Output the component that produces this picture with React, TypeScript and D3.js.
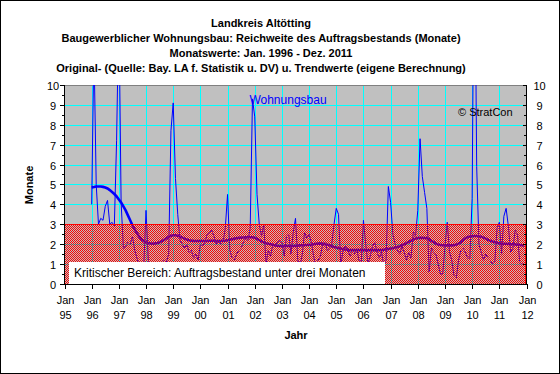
import React, { useEffect, useMemo } from "react";
import * as d3 from "d3";

// ---------- DATA ----------
const TITLE_LINES = [
  "Landkreis Altötting",
  "Baugewerblicher Wohnungsbau:  Reichweite  des Auftragsbestands (Monate)",
  "Monatswerte: Jan. 1996 - Dez. 2011",
  "Original- (Quelle: Bay. LA f. Statistik u. DV) u. Trendwerte (eigene Berechnung)",
];
const X_TICK_YEARS = [1995, 1996, 1997, 1998, 1999, 2000, 2001, 2002, 2003, 2004, 2005, 2006, 2007, 2008, 2009, 2010, 2011, 2012];
const X_TICK_LABELS = ["95", "96", "97", "98", "99", "00", "01", "02", "03", "04", "05", "06", "07", "08", "09", "10", "11", "12"];
const Y_TICKS = [0, 1, 2, 3, 4, 5, 6, 7, 8, 9, 10];
const SERIES_START_YEAR = 1996;
const CRITICAL_LEVEL = 3;

// monthly original values Jan 1996 .. Dec 2011
const originalValues = [
  4.0, 12, 5.0, 3.0, 3.3, 3.2, 3.9, 4.2, 3.0, 3.1, 2.9, 7.2,
  14, 4.1, 1.8, 1.9, 2.1, 2.0, 2.4, 1.7, 1.3, 0.9, 0.7, 0.9,
  3.7, 1.2, 0.9, 0.8, 1.0, 0.7, 0.9, 1.0, 1.2, 1.1, 1.5, 7.7,
  9.1, 5.3, 3.5, 2.2, 2.0, 1.8, 2.0, 1.6, 1.7, 1.3, 1.5, 1.2,
  2.0, 1.9, 2.1, 2.5, 2.6, 2.7, 2.4, 2.0, 2.2, 2.0, 2.1, 2.8,
  4.5, 1.7, 1.3, 1.2, 1.5, 1.7, 1.8, 2.1, 2.3, 2.2, 2.8, 9.3,
  8.4, 4.5, 3.0, 2.4, 3.0, 1.0, 1.7, 1.4, 2.0, 1.9, 2.1, 2.2,
  2.1, 1.4, 2.4, 2.5, 1.5, 2.6, 3.3, 1.2, 0.9, 1.5, 2.6, 2.3,
  2.5, 2.1, 1.4, 0.9, 1.2, 1.4, 2.0, 2.1, 1.7, 1.8, 2.0, 3.0,
  3.8, 3.5, 0.9, 1.7, 1.9, 1.8, 1.4, 1.6, 1.5, 1.8, 1.2, 1.0,
  3.2, 2.0, 1.0, 1.4, 1.9, 2.1, 1.6, 1.3, 1.6, 0.9, 1.2, 4.9,
  4.1, 2.5, 2.0, 1.7, 1.5, 1.9, 1.6, 1.2, 1.6, 1.3, 2.6, 2.4,
  3.7, 7.3, 5.4, 4.6, 3.8, 0.6, 1.8, 1.6, 1.5, 1.0, 0.5, 0.5,
  1.9, 3.1, 1.6, 1.2, 0.4, 0.3, 1.2, 1.7, 1.8, 1.6, 1.3, 1.3,
  4.3, 20, 5.9, 2.0, 1.6, 1.2, 1.5, 1.3, 1.2, 1.0, 1.1, 2.8,
  3.1, 1.5, 3.4, 3.8, 2.9, 1.6, 1.8, 2.7, 2.5, 1.1, 1.0, 1.0,
];

// monthly trend values Jan 1996 .. Dec 2011
const trendValues = [
  4.85, 4.87, 4.9, 4.9, 4.9, 4.88, 4.85, 4.8, 4.72, 4.62, 4.52, 4.4,
  4.25, 4.1, 3.9, 3.7, 3.45, 3.2, 2.95, 2.75, 2.55, 2.38, 2.25, 2.15,
  2.1, 2.06, 2.04, 2.03, 2.04, 2.06, 2.1, 2.15, 2.22, 2.3, 2.37, 2.42,
  2.45, 2.45, 2.42, 2.38, 2.33, 2.28, 2.24, 2.2, 2.18, 2.16, 2.16, 2.16,
  2.16, 2.16, 2.16, 2.16, 2.17, 2.17, 2.17, 2.16, 2.16, 2.16, 2.17, 2.18,
  2.2, 2.22, 2.25, 2.28, 2.3, 2.32, 2.33, 2.34, 2.35, 2.35, 2.35, 2.35,
  2.32, 2.27, 2.2, 2.14, 2.09, 2.05, 2.02, 2.0, 1.97, 1.94, 1.92, 1.91,
  1.91, 1.91, 1.91, 1.91, 1.91, 1.91, 1.92, 1.93, 1.94, 1.95, 1.96, 1.96,
  1.97, 1.98, 2.0, 2.02, 2.03, 2.04, 2.03, 2.0, 1.98, 1.94, 1.9, 1.86,
  1.83, 1.8, 1.78, 1.75, 1.73, 1.71, 1.7, 1.7, 1.7, 1.7, 1.7, 1.7,
  1.7, 1.7, 1.7, 1.7, 1.7, 1.7, 1.7, 1.7, 1.7, 1.72, 1.74, 1.76,
  1.78, 1.8, 1.83, 1.86, 1.9, 1.95, 2.0, 2.05, 2.12, 2.18, 2.24, 2.28,
  2.31, 2.32, 2.32, 2.31, 2.3, 2.25, 2.17, 2.1, 2.03, 1.99, 1.96, 1.95,
  1.94, 1.94, 1.94, 1.94, 1.95, 1.98, 2.03, 2.1, 2.2, 2.3, 2.36, 2.39,
  2.4, 2.41, 2.41, 2.4, 2.38, 2.33, 2.28, 2.22, 2.17, 2.13, 2.1, 2.07,
  2.04, 2.03, 2.02, 2.02, 2.01, 2.0, 2.0, 1.99, 1.97, 1.96, 1.95, 1.94,
];

const SERIES_LABEL = "Wohnungsbau";
const CRITICAL_LABEL = "Kritischer Bereich: Auftragsbestand unter drei Monaten";
const COPYRIGHT = "© StratCon";
const Y_TITLE = "Monate";
const X_TITLE = "Jahr";

// ---------- LAYOUT ----------
const W = 560;
const H = 374;
const PL = 64;
const PR = 526;
const PT = 85;
const PB = 284;
const FONT = "'Liberation Sans', Arial, Helvetica, sans-serif";

function makeChecker(x0: number, y0: number, w: number, h: number): string {
  if (typeof document === "undefined") return "";
  const c = document.createElement("canvas");
  c.width = w;
  c.height = h;
  const ctx = c.getContext("2d");
  if (!ctx) return "";
  const img = ctx.createImageData(w, h);
  for (let j = 0; j < h; j++) {
    for (let i = 0; i < w; i++) {
      const k = (j * w + i) * 4;
      if ((x0 + i + y0 + j) % 2 === 0) {
        img.data[k] = 255;
        img.data[k + 1] = 0;
        img.data[k + 2] = 0;
        img.data[k + 3] = 255;
      } else {
        img.data[k + 3] = 0;
      }
    }
  }
  ctx.putImageData(img, 0, 0);
  return c.toDataURL("image/png");
}

export default function App() {
  useEffect(() => {
    document.body.style.margin = "0";
  }, []);

  const x = d3.scaleLinear().domain([1995, 2012]).range([PL + 0.5, PR + 0.5]);
  const y = d3.scaleLinear().domain([0, 10]).range([PB, PT]);
  const row = (v: number) => Math.round(y(v) - 0.1);
  const monthX = (i: number) => x(SERIES_START_YEAR + i / 12);

  const line = d3
    .line<number>()
    .x((_, i) => monthX(i))
    .y((d) => y(d));

  const minorTicks = d3.range(0, 10.01, 0.5);
  const critTop = row(CRITICAL_LEVEL);
  const hx = PL + 1;
  const hy = critTop + 1;
  const hw = PR - PL - 1;
  const hh = PB - critTop - 1;
  const checker = useMemo(() => makeChecker(hx, hy, hw, hh), [hx, hy, hw, hh]);

  return (
    <svg
      width={W}
      height={H}
      style={{ position: "absolute", left: 0, top: 0, display: "block" }}
      fontFamily={FONT}
    >
      <defs>
        <clipPath id="plotClip">
          <rect x={PL} y={PT} width={PR - PL + 1} height={PB - PT + 1} />
        </clipPath>
      </defs>
      <rect x={0} y={0} width={W} height={H} fill="#ffffff" />
      <rect x={0.5} y={0.5} width={W - 1} height={H - 1} fill="none" stroke="#000" />

      {TITLE_LINES.map((t, i) => (
        <text key={i} x={261} y={27 + i * 15} textAnchor="middle" fontSize={11} fontWeight="bold" fill="#000">
          {t}
        </text>
      ))}

      {/* plot background */}
      <rect x={PL} y={PT} width={PR - PL} height={PB - PT} fill="#c0c0c0" />

      {/* gridlines */}
      <g fill="#00ffff">
        {Y_TICKS.filter((v) => v > 0 && v < 10).map((v) => (
          <rect key={"gy" + v} x={PL} y={row(v)} width={PR - PL} height={1} />
        ))}
        {X_TICK_YEARS.filter((yr) => yr > 1995 && yr < 2012).map((yr) => (
          <rect key={"gx" + yr} x={Math.round(x(yr))} y={PT} width={1} height={PB - PT} />
        ))}
      </g>
      <rect x={PL} y={PT} width={PR - PL} height={1} fill="#808080" />

      {/* series */}
      <g clipPath="url(#plotClip)">
        <path d={line(originalValues) || ""} fill="none" stroke="#0000ff" strokeWidth={1} />
        <path d={line(trendValues) || ""} fill="none" stroke="#0000ff" strokeWidth={2.6} />
      </g>

      {/* critical zone: red checker hatch over everything below 3 */}
      {checker && (
        <image
          href={checker}
          x={hx}
          y={hy}
          width={hw}
          height={hh}
          preserveAspectRatio="none"
          style={{ imageRendering: "pixelated" }}
        />
      )}
      <g fill="#ff0000">
        <rect x={PL} y={critTop} width={PR - PL} height={1} />
        <rect x={PR - 1} y={critTop} width={1} height={PB - critTop} />
      </g>
      <rect x={69} y={262} width={316} height={22} fill="#ffffff" />
      <text x={74} y={277} fontSize={12} fill="#000">
        {CRITICAL_LABEL}
      </text>

      <text x={288} y={104} textAnchor="middle" fontSize={12} fill="#0000ff">
        {SERIES_LABEL}
      </text>
      <text x={458} y={116} fontSize={11} fill="#000">
        {COPYRIGHT}
      </text>

      {/* axes */}
      <g fill="#000">
        <rect x={PL} y={PT} width={1} height={PB - PT + 1} />
        <rect x={PR} y={PT} width={1} height={PB - PT + 1} />
        <rect x={PL} y={PB} width={PR - PL + 1} height={1} />
        {minorTicks.map((v) => {
          const major = Math.abs(v - Math.round(v)) < 1e-6;
          const yy = row(v);
          const len = major ? 4 : 2;
          return (
            <g key={"t" + v}>
              <rect x={PL - len} y={yy} width={len} height={1} />
              <rect x={PR - (major ? 3 : 2)} y={yy} width={major ? 3 : 2} height={1} />
            </g>
          );
        })}
        {X_TICK_YEARS.map((yr) => (
          <rect key={"xt" + yr} x={Math.round(x(yr))} y={PB} width={1} height={5} />
        ))}
      </g>
      {Y_TICKS.map((v) => (
        <g key={"yl" + v}>
          <text x={53} y={row(v) + 4.5} textAnchor="middle" fontSize={11} fill="#000">
            {v}
          </text>
          <text x={539.5} y={row(v) + 4.5} textAnchor="middle" fontSize={11} fill="#000">
            {v}
          </text>
        </g>
      ))}

      {X_TICK_YEARS.map((yr, i) => {
        const xx = Math.round(x(yr)) + 0.5;
        return (
          <g key={"xl" + yr}>
            <text x={xx} y={304} textAnchor="middle" fontSize={11} fill="#000">
              Jan
            </text>
            <text x={xx} y={319} textAnchor="middle" fontSize={11} fill="#000">
              {X_TICK_LABELS[i]}
            </text>
          </g>
        );
      })}

      <text x={296} y={339} textAnchor="middle" fontSize={11} fontWeight="bold" fill="#000">
        {X_TITLE}
      </text>
      <text
        x={0}
        y={0}
        transform={`translate(33, 185) rotate(-90)`}
        textAnchor="middle"
        fontSize={11}
        fontWeight="bold"
        fill="#000"
      >
        {Y_TITLE}
      </text>
    </svg>
  );
}
